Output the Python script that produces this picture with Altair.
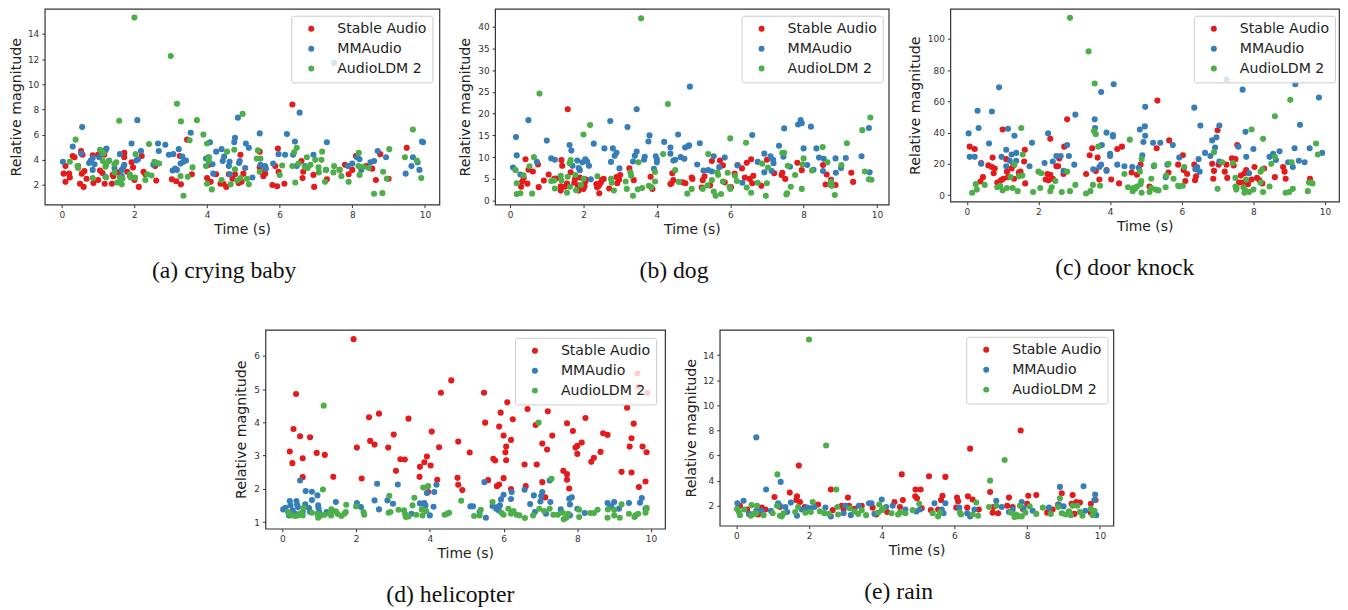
import altair as alt
import pandas as pd

SERIES = ["Stable Audio", "MMAudio", "AudioLDM 2"]
COLORS = ["#e41a1c", "#377eb8", "#4daf4a"]

A_RED = [(0.05,2.9),(0.1,3.5),(0.1,2.25),(0.2,2.9),(0.22,2.6),(0.3,4.3),(0.35,4.2),(0.45,3.5),(0.5,2.1),(0.53,4.7),(0.55,2.9),(0.57,4.4),(0.6,1.85),(0.62,3.1),(0.68,2.5),(0.85,4.35),(0.87,2.15),(1.0,4.4),(1.0,2.4),(1.05,3.15),(1.12,2.95),(1.17,4.4),(1.18,2.1),(1.38,2.1),(1.4,2.8),(1.42,2.7),(1.55,3.0),(1.72,4.55),(1.72,4.2),(1.8,3.05),(1.88,2.7),(1.92,3.8),(1.96,3.4),(2.0,2.4),(2.12,1.85),(2.2,4.3),(2.25,3.05),(2.3,2.85),(2.57,3.5),(2.6,2.35),(3.03,2.45),(3.15,2.3),(3.25,4.3),(3.28,2.05),(3.45,5.6),(3.58,2.85),(4.0,2.55),(4.05,3.6),(4.1,2.25),(4.25,2.85),(4.37,2.1),(4.45,2.1),(4.53,1.85),(4.6,2.85),(4.7,2.5),(4.77,2.85),(4.87,2.15),(4.92,4.4),(4.95,2.25),(5.0,2.9),(5.45,4.65),(5.45,3.4),(5.52,3.0),(5.55,2.7),(5.6,2.9),(5.8,2.0),(5.88,3.5),(5.93,1.9),(5.95,4.9),(5.97,3.05),(6.13,2.1),(6.35,8.4),(6.6,3.9),(6.63,2.55),(6.65,3.05),(6.93,2.8),(6.95,1.85),(7.3,2.45),(7.65,3.2),(7.8,3.6),(7.9,2.85),(8.0,3.2),(8.1,4.3),(8.38,3.5),(8.55,3.3),(8.65,2.4),(8.77,4.45),(9.0,2.5),(9.5,4.95)]
A_BLUE = [(0.03,3.85),(0.3,5.05),(0.53,4.5),(0.56,6.6),(0.75,3.75),(0.8,3.95),(0.85,4.15),(0.85,3.2),(0.9,3.65),(1.03,4.2),(1.2,4.75),(1.23,4.9),(1.2,2.65),(1.3,3.95),(1.45,3.35),(1.6,4.45),(1.65,3.2),(1.65,2.7),(1.7,3.45),(1.72,3.6),(1.92,5.3),(2.05,3.95),(2.08,7.15),(2.1,4.05),(2.18,4.7),(2.52,3.6),(2.65,5.3),(2.67,4.7),(2.85,5.2),(2.95,4.4),(3.07,4.45),(3.05,3.15),(3.12,3.3),(3.17,3.2),(3.22,4.85),(3.27,3.7),(3.32,4.25),(3.35,3.85),(3.42,3.95),(3.55,6.15),(3.97,4.1),(4.05,4.2),(4.08,5.4),(4.15,3.65),(4.17,2.9),(4.25,4.65),(4.4,4.85),(4.43,3.9),(4.47,4.25),(4.6,3.5),(4.62,3.85),(4.63,2.85),(4.75,5.4),(4.77,5.75),(4.85,7.35),(4.88,3.75),(4.9,3.9),(5.05,3.35),(5.07,5.3),(5.15,4.95),(5.25,2.6),(5.45,6.1),(5.47,3.6),(5.6,3.5),(5.62,3.3),(5.82,3.7),(5.97,4.45),(6.15,4.4),(6.2,6.05),(6.37,4.4),(6.42,5.45),(6.47,3.5),(6.55,7.75),(6.7,3.5),(6.93,4.4),(7.27,3.2),(7.3,5.4),(7.5,11.7),(7.88,3.5),(8.0,3.7),(8.13,4.2),(8.2,4.05),(8.25,3.2),(8.5,3.8),(8.6,3.9),(8.7,4.7),(8.93,4.2),(9.47,2.9),(9.63,3.5),(9.67,4.2),(9.8,3.8),(9.85,3.2),(9.92,5.45),(9.95,5.4)]
A_GREEN = [(0.22,3.85),(0.38,5.6),(0.43,3.5),(0.45,3.35),(0.85,2.55),(1.05,4.8),(1.1,4.65),(1.15,4.5),(1.13,3.9),(1.2,3.45),(1.22,3.6),(1.22,2.6),(1.3,3.9),(1.45,3.65),(1.45,3.0),(1.5,3.8),(1.52,2.2),(1.58,7.1),(1.6,2.2),(1.6,2.6),(1.65,2.05),(1.67,2.5),(1.87,2.85),(1.9,2.6),(2.0,15.3),(2.02,2.6),(2.03,4.45),(2.3,2.4),(2.35,2.85),(2.4,5.25),(2.47,2.75),(2.55,3.85),(2.62,3.75),(2.68,3.7),(3.0,12.25),(3.17,8.45),(3.27,2.7),(3.28,7.05),(3.35,1.15),(3.47,2.65),(3.52,5.55),(3.6,3.4),(3.72,7.15),(3.9,6.0),(3.97,3.5),(4.0,2.1),(4.0,5.3),(4.03,4.2),(4.05,3.9),(4.13,1.65),(4.4,2.4),(4.55,4.65),(4.65,2.05),(4.75,4.8),(4.77,3.25),(4.83,2.35),(4.92,2.55),(4.98,7.65),(5.1,2.5),(5.15,2.05),(5.37,4.1),(5.4,4.75),(5.45,3.05),(5.47,4.1),(6.0,2.8),(6.07,3.55),(6.35,3.5),(6.43,2.2),(6.4,4.6),(6.47,4.95),(6.52,3.7),(6.77,3.35),(6.7,3.4),(6.75,4.2),(6.85,3.6),(6.98,4.0),(7.07,3.4),(7.08,3.0),(7.15,4.0),(7.17,4.65),(7.25,2.25),(7.28,3.2),(7.48,3.0),(7.5,3.5),(7.65,3.2),(7.7,2.7),(7.9,2.25),(8.17,3.5),(8.18,4.55),(8.2,2.8),(8.3,3.45),(8.45,3.35),(8.6,1.3),(8.83,1.35),(8.85,3.05),(8.95,2.5),(9.02,4.85),(9.45,4.2),(9.67,6.4),(9.78,3.95),(9.9,2.55)]

B_RED = [(0.3,3.2),(0.33,4.4),(0.37,5.2),(0.42,9.5),(0.47,3.9),(0.5,7.1),(0.62,6.7),(0.76,8.3),(0.78,3.1),(0.92,4.6),(1.05,6.0),(1.2,5.0),(1.25,5.1),(1.38,2.3),(1.38,3.3),(1.4,9.3),(1.42,8.0),(1.5,3.2),(1.55,3.9),(1.57,21.0),(1.65,6.5),(1.75,4.1),(1.77,5.0),(1.85,3.5),(1.87,2.3),(1.9,5.3),(1.95,2.9),(2.0,2.7),(2.03,3.3),(2.05,4.4),(2.05,4.9),(2.35,3.8),(2.37,3.1),(2.42,3.4),(2.43,1.7),(2.47,4.1),(2.5,4.7),(2.55,5.0),(2.7,2.8),(2.9,5.4),(2.92,4.0),(2.97,4.8),(3.0,5.9),(3.25,7.4),(3.37,4.7),(3.83,5.5),(3.88,2.7),(4.37,3.8),(4.4,4.0),(4.42,6.3),(4.45,4.7),(4.7,4.2),(4.78,4.0),(4.95,5.3),(4.97,5.0),(5.22,3.0),(5.25,4.7),(5.3,5.6),(5.45,3.5),(5.5,9.1),(5.72,9.2),(5.8,8.1),(5.85,4.2),(6.02,3.1),(6.12,6.2),(6.2,8.2),(6.32,7.4),(6.4,5.3),(6.45,8.7),(6.53,5.0),(6.57,9.5),(6.6,4.0),(6.63,5.7),(6.85,3.4),(7.0,9.4),(7.2,6.3),(7.4,5.9),(7.42,6.4),(7.5,5.0),(7.83,8.7),(7.95,7.0),(8.53,8.2),(8.6,3.7),(8.63,6.0),(8.75,4.8),(8.87,3.6),(9.3,6.4),(9.35,4.3)]
B_BLUE = [(0.08,7.6),(0.16,14.6),(0.18,10.4),(0.28,6.0),(0.5,18.5),(0.73,8.9),(1.0,13.8),(1.12,9.7),(1.22,9.4),(1.62,12.8),(1.67,11.5),(1.7,8.0),(1.83,9.2),(1.87,7.5),(1.9,7.0),(1.97,8.8),(2.05,9.5),(2.1,9.0),(2.15,8.0),(2.2,4.9),(2.28,13.1),(2.57,12.0),(2.73,18.3),(2.75,8.9),(2.8,12.0),(2.85,10.3),(2.9,11.0),(2.98,7.4),(3.2,16.9),(3.35,9.0),(3.4,10.3),(3.45,11.3),(3.45,21.0),(3.65,9.4),(3.67,10.1),(3.77,13.6),(3.8,15.0),(3.92,7.3),(3.97,10.2),(4.0,9.5),(4.0,8.8),(4.2,13.5),(4.37,12.2),(4.37,10.8),(4.45,9.2),(4.5,9.4),(4.58,15.2),(4.65,10.0),(4.75,9.6),(4.77,12.2),(4.85,12.5),(4.88,12.7),(4.9,26.2),(5.1,8.3),(5.17,13.2),(5.27,6.9),(5.4,7.0),(5.5,6.7),(5.55,10.2),(5.7,7.7),(5.85,9.9),(6.2,8.1),(6.33,4.1),(6.6,15.1),(6.75,8.9),(6.93,10.8),(6.93,6.5),(7.1,10.2),(7.13,6.8),(7.17,9.4),(7.18,8.6),(7.33,12.6),(7.45,10.1),(7.47,16.6),(7.63,7.8),(7.85,17.5),(7.92,18.5),(7.95,17.8),(8.0,12.0),(8.1,8.2),(8.2,17.0),(8.27,7.1),(8.35,12.0),(8.42,9.9),(8.53,6.8),(8.55,9.6),(8.87,9.7),(8.88,6.4),(9.02,7.5),(9.15,9.8),(9.58,10.2),(9.78,16.7),(9.8,6.5)]
B_GREEN = [(0.15,7.0),(0.18,1.5),(0.18,4.0),(0.28,1.7),(0.37,5.8),(0.53,7.9),(0.6,1.6),(0.65,10.0),(0.8,24.6),(1.12,4.5),(1.2,4.6),(1.22,2.8),(1.38,5.7),(1.4,4.6),(1.55,1.8),(1.57,5.5),(1.62,8.6),(1.63,3.2),(1.65,9.3),(1.78,5.9),(1.8,2.4),(1.93,3.6),(2.0,15.2),(2.0,5.0),(2.18,17.4),(2.38,5.6),(2.75,5.0),(2.77,4.1),(2.83,2.3),(3.15,4.4),(3.18,2.7),(3.28,6.5),(3.3,5.7),(3.35,1.1),(3.48,2.6),(3.5,8.8),(3.57,41.9),(3.6,2.9),(3.78,3.4),(3.85,3.1),(3.95,4.4),(3.95,6.6),(4.17,10.7),(4.3,22.2),(4.5,7.0),(4.6,4.3),(4.83,1.6),(4.95,2.7),(5.25,2.7),(5.38,3.5),(5.4,10.7),(5.5,4.7),(5.55,2.1),(5.6,1.1),(5.65,6.5),(5.67,5.9),(5.75,1.5),(5.8,4.4),(5.93,6.4),(5.98,3.2),(6.0,2.7),(6.0,14.3),(6.13,5.7),(6.18,4.5),(6.43,13.3),(6.45,3.0),(6.57,1.8),(6.75,4.1),(6.87,8.5),(6.97,1.1),(7.0,4.0),(7.03,7.6),(7.42,11.0),(7.47,11.0),(7.53,1.4),(7.55,1.7),(7.57,8.0),(7.65,3.2),(7.77,5.9),(7.95,2.7),(7.97,8.3),(8.0,9.7),(8.23,6.9),(8.52,12.3),(8.65,8.8),(8.73,3.6),(8.75,4.3),(8.77,3.4),(8.85,1.3),(9.03,8.2),(9.18,13.2),(9.6,16.2),(9.67,6.7),(9.78,4.9),(9.82,19.1),(9.85,4.8)]

C_RED = [(0.08,31),(0.22,29.5),(0.38,8.7),(0.4,20.5),(0.45,11.5),(0.6,19),(0.7,18),(0.72,24),(0.75,14),(0.78,17),(0.85,8),(0.95,9.5),(1.0,42),(1.02,10.5),(1.1,23),(1.12,15),(1.15,11.5),(1.25,17),(1.3,19),(1.32,10.5),(1.45,14.5),(1.5,15),(1.6,21.5),(1.62,29),(1.63,7.5),(2.2,10),(2.25,13.5),(2.28,9.5),(2.33,36),(2.33,13),(2.4,10.5),(2.5,18.5),(2.55,18.5),(2.58,23.5),(2.7,13.5),(2.72,31),(2.8,48.5),(3.33,13.5),(3.43,25.5),(3.5,30),(3.6,15.5),(3.65,24),(3.7,10),(3.9,16),(4.03,10),(4.2,29.5),(4.25,7.5),(4.33,31),(4.6,14.5),(4.75,13),(4.85,19.5),(5.1,5.5),(5.3,30),(5.32,60.5),(5.63,14.5),(5.65,35),(5.9,19.5),(6.03,25.5),(6.05,16),(6.1,9),(6.15,13.5),(6.35,19.5),(6.37,9.5),(6.4,12),(6.85,20),(6.88,10.5),(6.9,15.5),(7.0,41.5),(7.03,19.5),(7.2,15),(7.25,19.5),(7.27,11),(7.4,23.5),(7.45,19),(7.5,23),(7.55,32),(7.6,8),(7.65,12.5),(7.7,8),(7.75,14),(7.8,16),(7.85,7),(7.95,10),(8.03,18),(8.1,11),(8.17,9.5),(8.25,7.5),(8.3,17),(8.6,11.5),(8.83,18),(8.87,15),(8.9,10.5),(9.58,10.5)]
C_BLUE = [(0.05,39.5),(0.08,24.5),(0.22,24.5),(0.3,54),(0.33,43),(0.4,20),(0.62,33),(0.7,53.5),(0.9,69),(0.97,24.5),(1.1,29),(1.15,42.5),(1.1,18.5),(1.2,22),(1.25,26),(1.33,38),(1.38,27),(1.38,22),(1.75,18.5),(1.82,33.5),(2.17,20.5),(2.27,39.5),(2.4,21.5),(2.5,25),(2.62,25),(2.7,15.5),(2.8,32),(2.85,25),(3.0,19.5),(3.03,51.5),(3.53,16.5),(3.57,48.5),(3.58,43),(3.7,18),(3.75,19.5),(3.75,66),(3.77,32),(3.9,15.5),(3.9,40),(4.0,26.5),(4.0,25),(4.08,38.5),(4.08,37.5),(4.1,71),(4.2,19.5),(4.4,18.5),(4.62,18),(4.8,17.5),(4.83,42),(4.9,25.5),(4.93,34),(4.97,44),(4.98,38),(4.98,56.5),(5.2,33.5),(5.22,18.5),(5.4,33.5),(5.55,11.5),(5.6,19.5),(5.75,32),(5.93,24),(6.35,56),(6.38,16.5),(6.43,18),(6.47,23),(6.5,15),(6.52,44.5),(6.65,27),(6.8,25),(6.85,35),(6.93,30.5),(6.97,37),(7.05,44.5),(7.05,21.5),(7.25,74),(7.58,31),(7.7,67.5),(7.78,40.5),(7.8,24.5),(7.88,14),(8.0,29.5),(8.45,24.5),(8.55,26.5),(8.63,22.5),(8.73,28),(8.97,21),(9.1,18),(9.15,30),(9.17,71),(9.27,22),(9.3,45),(9.43,21),(9.57,30),(9.83,62.5),(9.92,27)]
C_GREEN = [(0.15,1.5),(0.25,7),(0.28,3.5),(0.5,6.5),(0.85,5),(0.93,6),(1.0,3),(1.12,4.5),(1.22,11.5),(1.28,4.5),(1.33,19.5),(1.42,2.5),(1.45,12),(1.52,43),(1.55,12.5),(1.56,26),(1.85,2),(2.0,15),(2.05,4.5),(2.08,14),(2.33,2.5),(2.37,5),(2.47,9),(2.65,2),(2.8,15),(2.88,2.5),(2.88,113.5),(3.03,6.5),(3.33,1),(3.4,92),(3.45,2.5),(3.52,6.5),(3.55,41),(3.57,71.5),(3.6,39),(3.67,31),(3.72,6),(4.4,13.5),(4.5,5),(4.55,35.5),(4.63,2.5),(4.65,4.5),(4.7,4),(4.75,5.5),(4.83,15),(4.85,7),(4.87,9),(4.88,23),(4.88,1.5),(5.1,2),(5.15,4.5),(5.15,10.5),(5.23,19),(5.27,3.5),(5.35,3),(5.55,5),(5.57,12.5),(5.63,20),(5.77,10.5),(5.9,6),(5.93,5.5),(6.03,6),(6.07,18),(6.9,27.5),(7.0,4),(7.13,21),(7.43,20.5),(7.5,11),(7.5,5.5),(7.52,3.5),(7.53,4.5),(7.72,5),(7.75,1.5),(7.77,3),(7.8,10),(7.88,2),(7.95,42),(8.0,3.5),(8.2,15),(8.25,16.5),(8.2,8),(8.27,36),(8.27,2),(8.45,5.5),(8.5,20),(8.6,24.5),(8.6,50.5),(8.9,1.5),(9.0,2),(9.03,61),(9.07,21),(9.1,4),(9.52,2.5),(9.55,8),(9.6,8),(9.65,7.5),(9.75,33),(9.8,26)]

D_RED = [(0.2,3.12),(0.27,2.77),(0.3,3.8),(0.37,4.85),(0.48,3.58),(0.55,2.92),(0.55,2.35),(0.75,3.55),(0.93,3.08),(1.15,3.02),(1.38,2.36),(1.93,6.5),(2.02,3.24),(2.15,2.31),(2.35,4.15),(2.38,3.44),(2.5,3.33),(2.62,4.26),(2.87,3.24),(3.02,3.63),(3.08,2.54),(3.2,2.89),(3.32,2.88),(3.42,4.11),(3.72,2.36),(3.73,2.66),(3.85,2.8),(3.92,2.97),(3.95,1.9),(4.02,2.7),(4.05,3.72),(4.2,2.27),(4.25,3.25),(4.3,4.89),(4.58,5.26),(4.75,2.33),(4.77,2.12),(4.77,3.42),(4.88,1.96),(5.08,3.09),(5.47,4.89),(5.5,3.99),(5.58,2.26),(5.72,2.9),(5.77,2.85),(5.82,2.08),(5.88,2.13),(5.88,3.87),(5.92,4.29),(6.0,3.6),(6.0,2.32),(6.05,3.1),(6.07,3.27),(6.07,2.86),(6.1,4.6),(6.2,3.47),(6.2,1.99),(6.25,4.09),(6.57,2.73),(6.6,2.08),(6.65,4.4),(6.87,3.92),(6.9,2.73),(7.05,3.36),(7.05,2.2),(7.13,1.74),(7.18,3.18),(7.2,4.33),(7.32,3.6),(7.62,2.54),(7.72,3.97),(7.72,2.44),(7.72,2.27),(7.78,2.01),(7.88,3.74),(7.95,3.24),(8.0,3.29),(8.0,3.05),(8.12,3.39),(8.22,4.13),(8.38,2.81),(8.45,2.93),(8.63,3.11),(8.7,3.67),(8.82,3.62),(9.2,2.51),(9.35,4.44),(9.42,3.27),(9.47,2.49),(9.47,3.52),(9.53,3.96),(9.63,5.47),(9.65,5.07),(9.67,2.05),(9.77,3.27),(9.85,2.22),(9.88,3.1),(9.9,4.88)]
D_BLUE = [(0.02,1.38),(0.08,1.43),(0.18,1.2),(0.2,1.63),(0.22,1.5),(0.28,1.35),(0.35,1.25),(0.38,1.63),(0.4,1.52),(0.42,1.45),(0.48,2.25),(0.55,1.3),(0.62,1.53),(0.63,1.93),(0.72,1.42),(0.75,1.3),(0.8,1.66),(0.8,1.91),(0.95,1.8),(0.97,1.5),(0.98,1.42),(1.0,1.3),(1.2,1.3),(1.45,1.6),(2.02,1.57),(2.13,1.45),(2.57,2.15),(2.5,1.65),(2.62,1.38),(2.85,1.65),(3.0,1.55),(3.13,2.13),(3.5,1.25),(3.73,1.56),(3.85,1.57),(3.88,1.5),(3.92,1.87),(4.0,1.2),(4.1,1.46),(4.12,1.9),(4.18,2.12),(5.1,1.47),(5.17,1.47),(5.35,1.3),(5.48,2.2),(5.52,1.13),(5.7,1.48),(5.8,1.4),(5.83,1.45),(5.87,1.35),(5.9,1.5),(5.93,1.68),(6.0,1.82),(6.2,1.69),(6.22,1.9),(6.57,1.97),(6.72,1.54),(6.82,1.8),(6.85,1.3),(7.0,1.62),(7.02,1.78),(7.05,1.9),(7.15,1.25),(7.25,2.25),(7.27,1.6),(7.55,1.38),(7.78,1.7),(7.8,1.53),(7.85,1.74),(7.8,1.2),(8.0,1.4),(8.2,1.27),(8.82,1.57),(8.92,1.47),(9.0,1.6),(9.13,1.4),(9.4,1.57),(9.7,1.58),(9.75,1.72),(9.85,1.4)]
D_GREEN = [(0.15,1.3),(0.2,1.25),(0.25,1.2),(0.35,1.18),(0.42,1.2),(0.5,1.27),(0.55,1.2),(0.58,1.43),(0.8,1.28),(0.95,1.25),(0.97,1.13),(1.05,1.2),(1.1,1.98),(1.12,4.5),(1.15,1.22),(1.3,1.27),(1.32,1.2),(1.33,1.38),(1.45,1.32),(1.5,1.24),(1.6,1.18),(1.68,1.25),(1.72,1.3),(1.73,1.52),(2.0,1.47),(2.2,1.3),(2.22,1.22),(2.88,1.28),(2.9,1.79),(2.93,1.3),(3.15,1.37),(3.3,1.35),(3.33,1.23),(3.35,1.15),(3.42,1.17),(3.53,1.5),(3.58,1.73),(3.63,1.22),(3.78,1.38),(3.8,1.2),(3.82,2.04),(3.9,1.33),(3.95,2.08),(4.4,1.22),(4.47,1.25),(4.52,1.28),(4.85,1.64),(5.2,1.18),(5.35,1.2),(5.38,1.37),(5.7,1.6),(5.95,1.27),(6.0,1.22),(6.13,1.4),(6.2,1.25),(6.27,1.33),(6.35,1.22),(6.43,1.2),(6.58,1.12),(6.8,1.2),(6.95,3.99),(6.97,1.4),(7.1,1.33),(7.25,1.4),(7.3,2.3),(7.35,1.22),(7.47,1.22),(7.6,1.28),(7.63,1.08),(7.7,1.13),(7.75,1.25),(8.05,1.15),(8.05,1.37),(8.35,1.27),(8.45,1.27),(8.55,1.37),(8.82,1.13),(8.83,1.38),(9.0,1.37),(9.0,1.2),(9.15,1.13),(9.2,1.53),(9.4,1.25),(9.55,1.15),(9.65,1.25),(9.58,1.2),(9.85,1.28),(9.88,1.43),(9.88,1.4)]

E_RED = [(0.1,2.0),(0.3,1.7),(0.35,1.35),(0.6,1.3),(0.7,1.85),(0.8,1.7),(1.05,2.7),(1.2,1.9),(1.47,3.05),(1.65,2.45),(1.67,2.75),(1.72,5.2),(1.75,2.3),(1.88,1.9),(2.25,2.1),(2.6,3.3),(2.65,1.65),(2.9,2.0),(2.95,1.7),(3.07,2.65),(3.1,2.0),(3.25,1.75),(3.45,2.0),(3.75,1.85),(3.85,1.3),(4.15,1.5),(4.35,2.3),(4.5,1.9),(4.55,4.5),(4.58,2.45),(4.92,2.75),(4.93,3.3),(4.97,2.6),(5.07,3.3),(5.1,1.8),(5.3,4.35),(5.35,1.65),(5.55,1.7),(5.63,2.45),(5.67,2.8),(5.75,4.3),(6.05,1.85),(6.07,2.65),(6.1,2.35),(6.35,1.85),(6.37,2.75),(6.43,6.55),(6.5,2.5),(6.67,1.7),(6.98,3.1),(7.05,1.45),(7.07,1.9),(7.2,1.4),(7.45,2.0),(7.5,2.65),(7.6,1.9),(7.82,8.0),(7.88,1.75),(8.0,2.15),(8.03,2.8),(8.25,2.85),(8.55,1.45),(8.7,1.7),(8.85,2.1),(8.95,3.0),(9.22,2.15),(9.25,2.85),(9.3,1.35),(9.35,2.3),(9.45,2.25),(9.75,2.15),(9.88,2.45),(9.75,1.45)]
E_BLUE = [(0.03,2.2),(0.2,2.4),(0.35,1.35),(0.55,7.45),(0.55,1.6),(0.7,1.6),(0.82,3.3),(0.95,1.6),(1.15,2.2),(1.2,2.0),(1.22,3.9),(1.35,1.9),(1.4,1.5),(1.5,2.25),(1.67,1.2),(1.8,1.7),(1.95,1.85),(2.05,1.8),(2.15,1.9),(2.45,1.85),(2.6,1.15),(2.95,1.4),(3.0,2.0),(3.15,1.25),(3.37,2.0),(3.65,2.2),(3.72,2.2),(3.8,1.35),(4.0,2.5),(4.12,1.9),(4.3,2.0),(4.65,1.7),(4.95,1.55),(5.05,1.7),(5.45,2.2),(5.65,1.7),(5.7,1.4),(5.75,2.2),(6.13,1.85),(6.35,1.4),(6.43,1.15),(6.55,1.7),(7.15,2.4),(7.3,1.9),(7.5,1.5),(7.6,1.7),(7.85,2.3),(7.9,1.8),(8.15,1.6),(8.6,1.85),(8.87,2.1),(8.9,3.5),(9.0,1.95),(9.55,3.55),(9.6,1.6),(9.87,2.9),(9.85,2.45),(9.9,1.25)]
E_GREEN = [(0.02,1.75),(0.07,1.5),(0.1,1.25),(0.22,1.7),(0.4,1.2),(0.42,2.05),(0.48,1.35),(0.55,1.4),(0.57,2.0),(0.75,1.25),(1.0,1.4),(1.13,4.5),(1.12,2.0),(1.2,1.2),(1.25,1.15),(1.3,1.4),(1.62,1.5),(1.7,1.9),(1.9,1.45),(2.0,15.25),(2.05,1.5),(2.1,2.3),(2.3,1.55),(2.42,1.4),(2.47,6.8),(2.55,1.35),(2.75,3.3),(2.78,1.9),(2.8,1.3),(3.12,1.8),(3.25,1.55),(3.35,1.35),(3.45,1.65),(3.57,1.25),(3.9,1.45),(3.93,2.1),(4.0,1.65),(4.05,1.8),(4.27,1.4),(4.45,1.3),(4.5,1.45),(4.65,1.4),(4.85,1.65),(5.03,2.15),(5.4,1.4),(5.55,1.15),(5.6,1.45),(6.15,1.45),(6.18,1.3),(6.5,1.3),(6.6,2.25),(6.65,1.2),(6.95,1.9),(6.98,4.0),(7.15,2.0),(7.38,5.65),(7.55,1.45),(7.65,1.1),(7.7,1.3),(7.75,1.15),(7.8,2.0),(7.85,1.15),(7.95,1.45),(8.07,1.95),(8.25,1.35),(8.43,1.85),(8.65,1.35),(8.85,1.9),(8.9,2.6),(8.95,1.4),(9.05,1.3),(9.15,1.55),(9.2,1.25),(9.25,2.0),(9.38,2.0),(9.45,1.5),(9.52,1.2),(9.75,1.75),(9.8,1.25),(9.85,1.6)]

X_TICKS = [0, 2, 4, 6, 8, 10]


def panel(caption, groups, w, h, xdom, ydom, yticks, lx, ly, cap_dx, cap_off, ypad):
    rows = []
    for name, pts in zip(SERIES, groups):
        rows += [{"t": t, "v": v, "s": name} for t, v in pts]
    df = pd.DataFrame(rows)
    return alt.Chart(df).mark_circle(size=38, opacity=1).encode(
        x=alt.X("t:Q", title="Time (s)", scale=alt.Scale(domain=xdom, nice=False, zero=False),
                axis=alt.Axis(values=X_TICKS, grid=False, format="d", labelFontSize=9, labelColor="#333",
                              titleFontSize=14, titleFontWeight="normal", titleColor="#222", titlePadding=3,
                              tickSize=3, tickColor="#333", domain=False, labelPadding=3, labelFont="DejaVu Sans", titleFont="DejaVu Sans")),
        y=alt.Y("v:Q", title="Relative magnitude", scale=alt.Scale(domain=ydom, nice=False, zero=False),
                axis=alt.Axis(values=yticks, grid=False, format="d", labelFontSize=9, labelColor="#333",
                              titleFontSize=14.3, titleFontWeight="normal", titleColor="#222", titlePadding=ypad,
                              tickSize=3, tickColor="#333", domain=False, labelPadding=3, labelFont="DejaVu Sans", titleFont="DejaVu Sans")),
        color=alt.Color("s:N", scale=alt.Scale(domain=SERIES, range=COLORS),
                        legend=alt.Legend(title=None, orient="none", legendX=lx, legendY=ly, fillColor="rgba(255,255,255,0.8)",
                                          strokeColor="#ccc", cornerRadius=2, padding=6, labelFontSize=14.2, labelFont="DejaVu Sans",
                                          labelColor="#222", labelOffset=19, symbolSize=36, symbolOffset=7, symbolType="circle",
                                          rowPadding=5, labelLimit=200, symbolStrokeWidth=0)),
    ).properties(
        width=w, height=h,
        view=alt.ViewBackground(stroke="#333", strokeWidth=1.2),
        title=alt.TitleParams(caption, orient="bottom", font="Liberation Serif", fontSize=23.8, fontWeight="normal",
                              color="#111", anchor="middle", dx=cap_dx, offset=cap_off),
    )


a = panel("(a) crying baby", [A_RED, A_BLUE, A_GREEN], 397, 197, [-0.47, 10.4], [0.44, 16.0], [2, 4, 6, 8, 10, 12, 14], 248, 7, -18, 23, 4)
b = panel("(b) dog", [B_RED, B_BLUE, B_GREEN], 396, 197, [-0.41, 10.32], [-0.92, 44.1], [0, 5, 10, 15, 20, 25, 30, 35, 40], 248, 7, -18, 23, 5)
c = panel("(c) door knock", [C_RED, C_BLUE, C_GREEN], 391, 194, [-0.46, 10.39], [-4.2, 119.3], [0, 20, 40, 60, 80, 100], 245, 7, -20, 23, 5)
d = panel("(d) helicopter", [D_RED, D_BLUE, D_GREEN], 402, 200, [-0.46, 10.38], [0.8, 6.78], [1, 2, 3, 4, 5, 6], 251, 8, -15, 23, 5)
e = panel("(e) rain", [E_RED, E_BLUE, E_GREEN], 396, 197, [-0.456, 10.37], [0.41, 16.02], [2, 4, 6, 8, 10, 12, 14], 248, 7, -18, 23, 4)

spacer = alt.Chart(pd.DataFrame({"k": [0]})).mark_point(opacity=0).encode(
    x=alt.X("k:Q", axis=None), y=alt.Y("k:Q", axis=None)
).properties(width=172, height=10, view=alt.ViewBackground(stroke=None))

row1a = alt.hconcat(a, b, spacing=17).resolve_scale(color="independent").resolve_legend(color="independent")
row1 = alt.hconcat(row1a, c, spacing=18).resolve_scale(color="independent").resolve_legend(color="independent")
row2a = alt.hconcat(spacer, d, spacing=18).resolve_scale(color="independent").resolve_legend(color="independent")
row2 = alt.hconcat(row2a, e, spacing=17).resolve_scale(color="independent").resolve_legend(color="independent")
chart = alt.vconcat(row1, row2, spacing=45).resolve_scale(color="independent").resolve_legend(color="independent").properties(
    padding={"left": 0, "top": -2, "right": 0, "bottom": 0})

chart.save("out.html", embed_options={"renderer": "svg", "actions": False})
